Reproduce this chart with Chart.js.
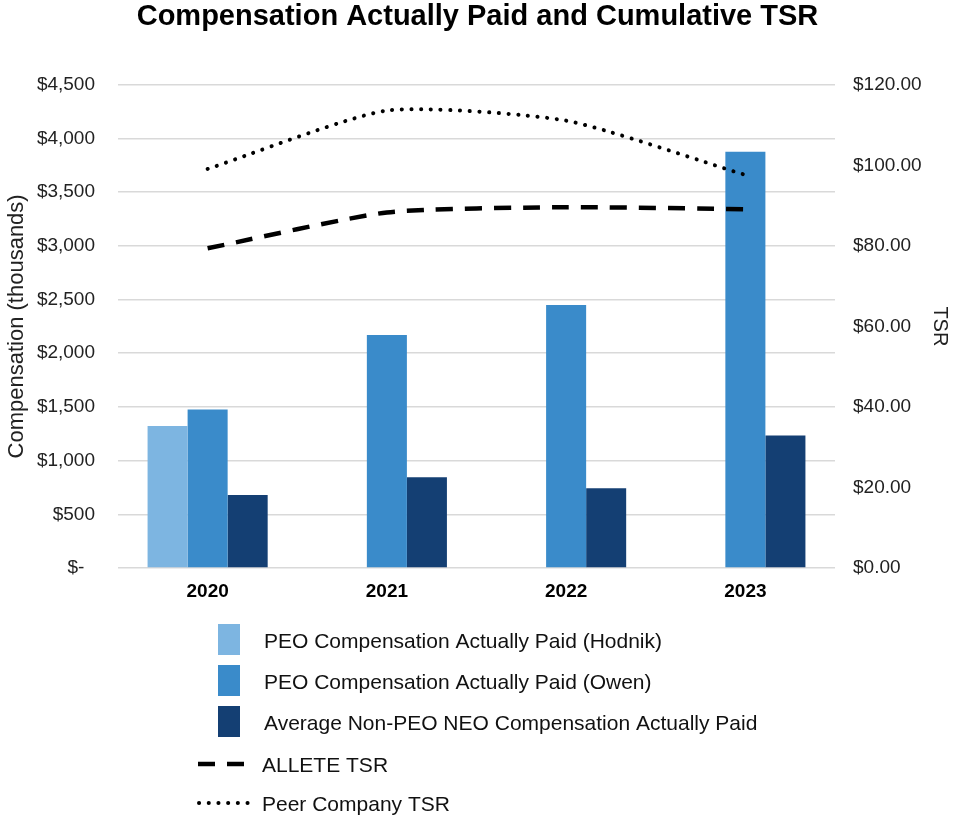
<!DOCTYPE html>
<html>
<head>
<meta charset="utf-8">
<script src="https://cdn.jsdelivr.net/npm/chart.js@4.4.0/dist/chart.umd.min.js"></script>
<style>
  html, body { margin: 0; padding: 0; background: #fff; }
</style>
</head>
<body>
<canvas id="grafico" width="955" height="818"></canvas>
<script>
// datos
const years = ["2020", "2021", "2022", "2023"];
const hodnikCap = [1323, null, null, null];
const owenCap = [1475, 2171, 2450, 3876];
const nonPeoCap = [680, 844, 742, 1234];
const alleteTsr = [79.4, 88.3, 89.6, 89.1];
const peerTsr = [99.1, 113.6, 111.1, 97.6];

const seriesNames = [
  "PEO Compensation Actually Paid (Hodnik)",
  "PEO Compensation Actually Paid (Owen)",
  "Average Non-PEO NEO Compensation Actually Paid",
  "ALLETE TSR",
  "Peer Company TSR"
];

const FONT = "'Liberation Sans', Arial, sans-serif";

// leyenda vertical dibujada abajo
const leyendaPlugin = {
  id: "leyenda",
  afterDraw(chart) {
    const { ctx } = chart;
    const sets = chart.data.datasets;
    ctx.save();
    ctx.font = "21px " + FONT;
    ctx.fillStyle = "#111";
    ctx.textBaseline = "middle";

    // cuadrados de las barras
    const filas = [640, 681, 722];
    for (let i = 0; i < 3; i++) {
      const y = filas[i];
      ctx.fillStyle = sets[i].backgroundColor;
      ctx.fillRect(218, y - 16, 22, 31);
      ctx.fillStyle = "#111";
      ctx.fillText(sets[i].label, 264, y + 2);
    }

    // lineas
    const lineas = [[3, 764], [4, 803]];
    lineas.forEach(([i, y]) => {
      const ds = sets[i];
      ctx.beginPath();
      ctx.strokeStyle = ds.borderColor;
      ctx.lineWidth = ds.borderWidth;
      ctx.lineCap = ds.borderCapStyle;
      ctx.setLineDash(ds.borderDash);
      ctx.moveTo(i === 3 ? 198 : 199, y);
      ctx.lineTo(250, y);
      ctx.stroke();
      ctx.setLineDash([]);
      ctx.fillStyle = "#111";
      ctx.fillText(ds.label, 262, y + 2);
    });
    ctx.restore();
  }
};

const data = {
  labels: years,
  datasets: [
    {
      type: "bar",
      label: seriesNames[0],
      data: hodnikCap,
      backgroundColor: "#7DB5E1",
      yAxisID: "y",
      order: 2
    },
    {
      type: "bar",
      label: seriesNames[1],
      data: owenCap,
      backgroundColor: "#3A8BCA",
      yAxisID: "y",
      order: 2
    },
    {
      type: "bar",
      label: seriesNames[2],
      data: nonPeoCap,
      backgroundColor: "#143F73",
      yAxisID: "y",
      order: 2
    },
    {
      type: "line",
      label: seriesNames[3],
      data: alleteTsr,
      borderColor: "#000",
      borderWidth: 4.5,
      borderDash: [17, 12],
      borderCapStyle: "butt",
      pointRadius: 0,
      tension: 0.2,
      fill: false,
      yAxisID: "y1",
      order: 1
    },
    {
      type: "line",
      label: seriesNames[4],
      data: peerTsr,
      borderColor: "#000",
      borderWidth: 4,
      borderDash: [0.1, 9.6],
      borderCapStyle: "round",
      pointRadius: 0,
      tension: 0.2,
      fill: false,
      yAxisID: "y1",
      order: 0
    }
  ]
};

const tickFont = { family: FONT, size: 19 };

const config = {
  type: "bar",
  data: data,
  options: {
    responsive: false,
    animation: false,
    layout: { padding: 0 },
    datasets: {
      bar: { categoryPercentage: 0.67, barPercentage: 1.0, borderWidth: 0 }
    },
    plugins: {
      legend: { display: false },
      tooltip: { enabled: false },
      title: {
        display: true,
        text: "Compensation Actually Paid and Cumulative TSR",
        color: "#000",
        font: { family: FONT, size: 29, weight: "bold" },
        padding: { top: 0, bottom: 50 }
      }
    },
    scales: {
      x: {
        grid: { display: false },
        border: { display: false },
        ticks: { color: "#000", font: { family: FONT, size: 19, weight: "bold" }, padding: 4 },
        afterFit: (s) => { s.height = 250; }
      },
      y: {
        position: "left",
        min: 0,
        max: 4500,
        border: { display: false },
        grid: { color: "#d9d9d9", lineWidth: 1.5, drawTicks: false },
        ticks: {
          stepSize: 500,
          color: "#222",
          font: tickFont,
          padding: 23,
          callback: (v) => v === 0 ? "$-  " : "$" + v.toLocaleString("en-US")
        },
        title: {
          display: true,
          text: "Compensation (thousands)",
          color: "#222",
          font: { family: FONT, size: 22 },
          padding: { top: 4, bottom: 0 }
        },
        afterFit: (s) => { s.width = 118; }
      },
      y1: {
        position: "right",
        min: 0,
        max: 120,
        border: { display: false },
        grid: { display: false, drawTicks: false },
        ticks: {
          stepSize: 20,
          color: "#222",
          font: tickFont,
          padding: 18,
          callback: (v) => "$" + v.toFixed(2)
        },
        title: {
          display: true,
          text: "TSR",
          color: "#222",
          font: { family: FONT, size: 20 },
          padding: { top: 3, bottom: 0 }
        },
        afterFit: (s) => { s.width = 120; }
      }
    }
  },
  plugins: [leyendaPlugin]
};

const canva = document.getElementById("grafico").getContext("2d");
window.miGrafico = new Chart(canva, config);
</script>
</body>
</html>
